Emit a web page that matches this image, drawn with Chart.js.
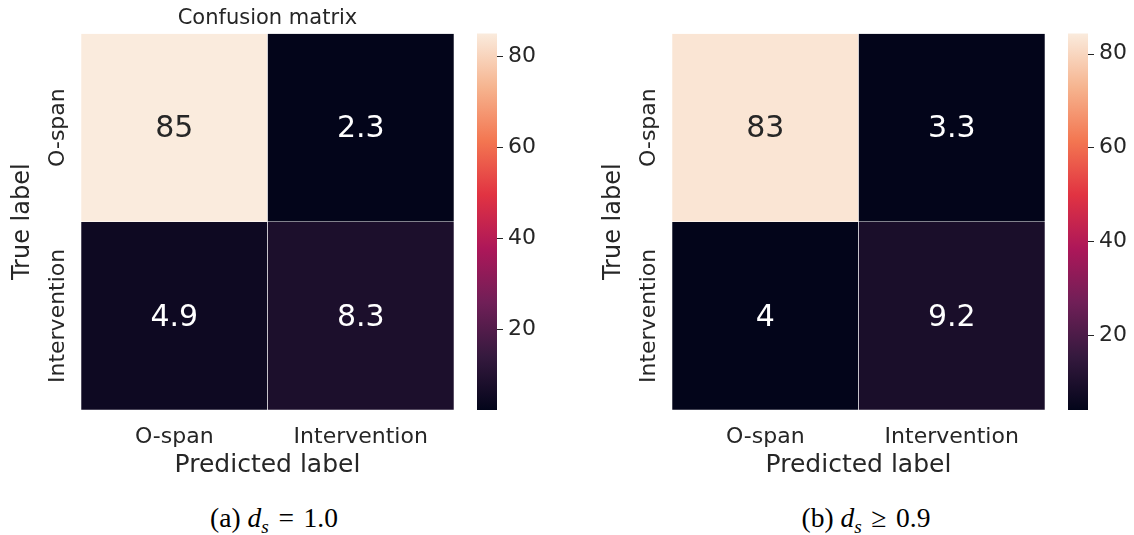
<!DOCTYPE html>
<html>
<head>
<meta charset="utf-8">
<script src="https://cdn.jsdelivr.net/npm/chart.js@4/dist/chart.umd.min.js"></script>
<style>
  html, body { margin: 0; padding: 0; background: #fff; }
  body { width: 1134px; height: 535px; position: relative; overflow: hidden; }
  .panel { position: absolute; top: 0; width: 544px; height: 495px; }
  .caption {
    position: absolute; top: 502px; width: 320px; margin-left: -160px;
    text-align: center; font-family: "Liberation Serif", serif; font-size: 27.5px;
    color: #000; white-space: nowrap;
  }
  .caption i { font-style: italic; }
  .caption .sub { font-size: 0.7em; font-style: italic; position: relative; top: 0.3em; }
  .caption .rel { margin: 0 0.35em; }
</style>
</head>
<body>
<div class="panel" style="left:0"><canvas id="cmA" width="544" height="495"></canvas></div>
<div class="panel" style="left:591px"><canvas id="cmB" width="544" height="495"></canvas></div>
<div class="caption" style="left:274px">(a) <i>d</i><span class="sub">s</span><span class="rel">=</span>1.0</div>
<div class="caption" style="left:866px">(b) <i>d</i><span class="sub">s</span><span class="rel">≥</span>0.9</div>

<script>
// Class names along both axes
const predictedLabels = ['O-span', 'Intervention'];
const trueLabels = ['O-span', 'Intervention'];

// Confusion matrices (%), rows = true label, columns = predicted label
const matrixA = [[85, 2.3], [4.9, 8.3]];
const matrixB = [[83, 3.3], [4, 9.2]];

// Colour limits [low, high] of each panel's colour bar
const colorLimitsA = [2.3, 85];
const colorLimitsB = [4, 84.3];

// Colour bar tick values
const colorbarTicks = [20, 40, 60, 80];

// "rocket" colour map stops
const rocketStops = [
  [0, '#03051a'], [1 / 7, '#35193e'], [2 / 7, '#701f57'], [3 / 7, '#ad1759'],
  [4 / 7, '#e13342'], [5 / 7, '#f37651'], [6 / 7, '#f6b48f'], [1, '#faebdd']
];

const FONT = '"DejaVu Sans", sans-serif';
const INK = '#262626';

function hexToRgb(h) {
  return [parseInt(h.slice(1, 3), 16), parseInt(h.slice(3, 5), 16), parseInt(h.slice(5, 7), 16)];
}
function rocket(t) {
  t = Math.max(0, Math.min(1, t));
  for (let i = 1; i < rocketStops.length; i++) {
    const [p1, c1] = rocketStops[i];
    const [p0, c0] = rocketStops[i - 1];
    if (t <= p1) {
      const f = (t - p0) / (p1 - p0);
      const a = hexToRgb(c0), b = hexToRgb(c1);
      return a.map((v, k) => Math.round(v + (b[k] - v) * f));
    }
  }
  return hexToRgb(rocketStops[rocketStops.length - 1][1]);
}
function luminance(rgb) {
  const c = rgb.map(v => {
    v /= 255;
    return v <= 0.03928 ? v / 12.92 : Math.pow((v + 0.055) / 1.055, 2.4);
  });
  return 0.2126 * c[0] + 0.7152 * c[1] + 0.0722 * c[2];
}
function fmt(v) { return String(Number(v.toPrecision(2))); }

// Annotations, row labels and colour bar
const heatmapDecor = {
  id: 'heatmapDecor',
  afterDatasetsDraw(chart, args, opts) {
    const ctx = chart.ctx;
    const { matrix, vmin, vmax } = opts;
    ctx.save();
    ctx.font = '30px ' + FONT;
    ctx.textAlign = 'center';
    ctx.textBaseline = 'middle';
    chart.data.datasets.forEach((ds, r) => {
      const meta = chart.getDatasetMeta(r);
      meta.data.forEach((bar, c) => {
        const v = matrix[r][c];
        const rgb = rocket((v - vmin) / (vmax - vmin));
        const p = bar.getProps(['x', 'y', 'base'], true);
        ctx.fillStyle = luminance(rgb) > 0.408 ? INK : '#ffffff';
        ctx.fillText(fmt(v), p.x, (p.y + p.base) / 2 + 2);
      });
    });
    ctx.restore();
  },
  afterDraw(chart) {
    const ctx = chart.ctx;
    const ca = chart.chartArea;
    const s = chart.scales.cbar;
    const x0 = ca.right + 23, w = 20;
    const yTop = s.getPixelForValue(s.max);
    const yBot = s.getPixelForValue(s.min);
    ctx.save();
    const g = ctx.createLinearGradient(0, yBot, 0, yTop);
    rocketStops.forEach(([p, c]) => g.addColorStop(p, c));
    ctx.fillStyle = g;
    ctx.fillRect(x0, yTop, w, yBot - yTop);
    ctx.strokeStyle = INK;
    ctx.lineWidth = 1;
    s.ticks.forEach(t => {
      const y = Math.round(s.getPixelForValue(t.value)) + 0.5;
      ctx.beginPath();
      ctx.moveTo(x0 + w, y);
      ctx.lineTo(x0 + w + 6, y);
      ctx.stroke();
    });
    // row labels, reading upwards
    const ys = chart.scales.y;
    ctx.font = '22px ' + FONT;
    ctx.fillStyle = INK;
    ctx.textAlign = 'center';
    ctx.textBaseline = 'middle';
    trueLabels.forEach((lab, r) => {
      const yc = ys.getPixelForValue(r + 0.5);
      ctx.save();
      ctx.translate(ca.left - 23, yc);
      ctx.rotate(-Math.PI / 2);
      ctx.fillText(lab, 0, 0);
      ctx.restore();
    });
    ctx.restore();
  }
};

function buildHeatmap(canvasId, matrix, limits, title) {
  const [vmin, vmax] = limits;
  const datasets = matrix.map((row, r) => ({
    data: row.map(() => [r, r + 1]),
    backgroundColor: row.map(v => 'rgb(' + rocket((v - vmin) / (vmax - vmin)).join(',') + ')'),
    borderColor: '#ffffff',
    borderWidth: 0.6,
    borderSkipped: false,
    grouped: false,
    barPercentage: 1,
    categoryPercentage: 1
  }));
  return new Chart(document.getElementById(canvasId), {
    type: 'bar',
    data: { labels: predictedLabels, datasets },
    options: {
      responsive: false,
      animation: false,
      events: [],
      layout: { padding: { top: title ? 0 : 33.5, left: 0, right: 0, bottom: 0 } },
      plugins: {
        legend: { display: false },
        tooltip: { enabled: false },
        title: {
          display: !!title,
          text: title || '',
          fullSize: false,
          color: INK,
          font: { family: FONT, size: 21, weight: 'normal', lineHeight: 1.2 },
          padding: { top: 6, bottom: 2.3 }
        },
        heatmapDecor: { matrix, vmin, vmax }
      },
      scales: {
        x: {
          type: 'category',
          offset: true,
          grid: { display: false, drawTicks: false },
          border: { display: false },
          ticks: { color: INK, font: { family: FONT, size: 22 }, padding: 14, minRotation: 0, maxRotation: 0 },
          title: {
            display: true, text: 'Predicted label', color: INK,
            font: { family: FONT, size: 25, lineHeight: 1.2 }, padding: { top: 0, bottom: 15 }
          },
          afterFit(s) { s.height = 85; }
        },
        y: {
          type: 'linear',
          min: 0, max: 2,
          reverse: true,
          grid: { display: false, drawTicks: false },
          border: { display: false },
          ticks: { display: false },
          title: {
            display: true, text: 'True label', color: INK,
            font: { family: FONT, size: 24, lineHeight: 1.2 }, padding: { top: 8, bottom: 0 }
          },
          afterFit(s) { s.width = 81; }
        },
        cbar: {
          type: 'linear',
          position: 'right',
          min: vmin, max: vmax,
          grid: { display: false, drawTicks: true, tickLength: 52 },
          border: { display: false },
          ticks: { color: INK, font: { family: FONT, size: 22 }, padding: 2 },
          afterBuildTicks(s) { s.ticks = colorbarTicks.map(v => ({ value: v })); },
          afterFit(s) { s.width = 90; }
        }
      }
    },
    plugins: [heatmapDecor]
  });
}

buildHeatmap('cmA', matrixA, colorLimitsA, 'Confusion matrix');
buildHeatmap('cmB', matrixB, colorLimitsB, null);
</script>
</body>
</html>
